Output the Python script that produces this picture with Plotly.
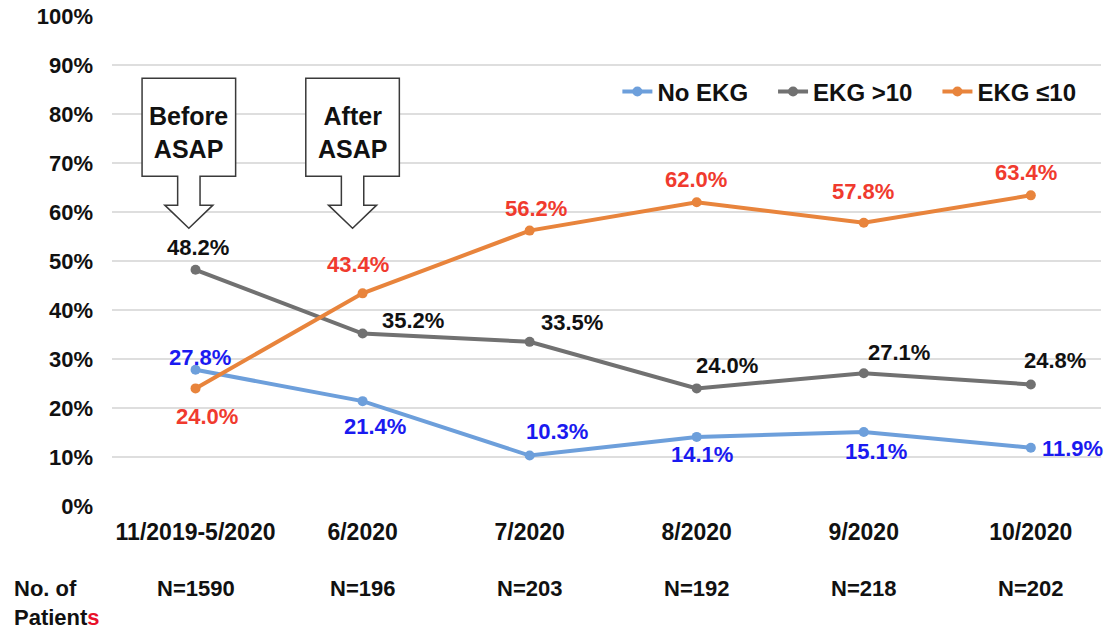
import plotly.graph_objects as go

# ---- data ----
PERIODS = ["11/2019-5/2020", "6/2020", "7/2020", "8/2020", "9/2020", "10/2020"]
N_PATIENTS = [1590, 196, 203, 192, 218, 202]

NO_EKG = [27.8, 21.4, 10.3, 14.1, 15.1, 11.9]
EKG_GT10 = [48.2, 35.2, 33.5, 24.0, 27.1, 24.8]
EKG_LE10 = [24.0, 43.4, 56.2, 62.0, 57.8, 63.4]

Y_TICKS = list(range(0, 101, 10))

# ---- style ----
FONT = "Liberation Sans, Arial, sans-serif"
GRID = "#dedede"
NBSP = "\u00a0"

SERIES = [
    # name, values, line colour, label colour, label offsets (px right, px down)
    ("No EKG", NO_EKG, "#6d9fdb", "#1a1af0",
     [(4, -12), (12, 25), (27, -24), (5, 18), (12, 19), (42, 1)]),
    ("EKG >10", EKG_GT10, "#717171", "#111111",
     [(2, -22), (50, -13), (42, -19), (30, -23), (35, -21), (24, -24)]),
    ("EKG ≤10", EKG_LE10, "#e8843c", "#f03a2e",
     [(11, 28), (-5, -29), (6, -22), (-1, -23), (-1, -31), (-5, -23)]),
]

x = list(range(len(PERIODS)))

fig = go.Figure()
annotations = []

for i, (name, vals, color, lab_color, offsets) in enumerate(SERIES):
    pad = NBSP * 3 if i < len(SERIES) - 1 else ""
    fig.add_trace(go.Scatter(
        x=x, y=vals, name=name + pad,
        mode="lines+markers",
        line=dict(color=color, width=4),
        marker=dict(color=color, size=10),
        hovertemplate="%{y:.1f}%<extra>" + name + "</extra>",
    ))
    for xi, v, (dx, dy) in zip(x, vals, offsets):
        annotations.append(dict(
            x=xi, y=v, xref="x", yref="y",
            text=f"{v:.1f}%", showarrow=False,
            xshift=dx, yshift=-dy,
            font=dict(size=22, color=lab_color, family=FONT, weight="bold"),
        ))

# patient counts under each period
for xi, n in zip(x, N_PATIENTS):
    annotations.append(dict(
        x=xi, y=-0.169, xref="x", yref="paper",
        text=f"N={n}", showarrow=False, yanchor="middle",
        font=dict(size=22, color="#111111", family=FONT, weight="bold"),
    ))

annotations.append(dict(
    x=-0.101, y=-0.139, xref="paper", yref="paper",
    xanchor="left", yanchor="top", align="left", showarrow=False,
    text="No. of<br>Patient<span style='color:#e8102a'>s</span>",
    font=dict(size=22, color="#111111", family=FONT, weight="bold"),
))

# "Before ASAP" / "After ASAP" callout arrows
shapes = []
for cx, label in [(-0.04, "Before<br>ASAP"), (0.94, "After<br>ASAP")]:
    bw, sw, hw = 0.28, 0.067, 0.144
    top, bot, head, tip = 87.3, 67.3, 61.4, 56.7
    path = (
        f"M {cx - bw},{top} L {cx + bw},{top} L {cx + bw},{bot} "
        f"L {cx + sw},{bot} L {cx + sw},{head} L {cx + hw},{head} "
        f"L {cx},{tip} L {cx - hw},{head} L {cx - sw},{head} "
        f"L {cx - sw},{bot} L {cx - bw},{bot} Z"
    )
    shapes.append(dict(
        type="path", path=path, xref="x", yref="y",
        fillcolor="white", line=dict(color="#3a3a3a", width=1.5),
        layer="above",
    ))
    annotations.append(dict(
        x=cx, y=76.3, xref="x", yref="y", text=label, showarrow=False,
        font=dict(size=25, color="#111111", family=FONT, weight="bold"),
    ))

# the page body has an 8px margin, so the figure is offset by it
fig.update_layout(
    width=1104, height=622,
    margin=dict(l=104, r=11, t=8, b=124),
    paper_bgcolor="white", plot_bgcolor="white",
    font=dict(family=FONT, size=22, color="#111111", weight="bold"),
    showlegend=True,
    legend=dict(
        orientation="h", x=0.511, y=0.845, xanchor="left", yanchor="middle",
        font=dict(size=24, family=FONT, color="#111111", weight="bold"),
        bgcolor="rgba(0,0,0,0)", itemclick=False,
    ),
    xaxis=dict(
        range=[-0.5, 5.42], tickvals=x, ticktext=PERIODS,
        showgrid=False, zeroline=False, showline=False, automargin=False,
        ticks="", ticklabelstandoff=10, ticklabeloverflow="allow",
        tickfont=dict(size=23, family=FONT, color="#111111", weight="bold"),
    ),
    yaxis=dict(
        range=[0, 100], tickvals=Y_TICKS, ticktext=[f"{v}%" for v in Y_TICKS],
        showgrid=True, gridcolor=GRID, gridwidth=1.5, automargin=False,
        zeroline=False, showline=False, ticks="", ticklabelstandoff=18,
        ticklabeloverflow="allow",
        tickfont=dict(size=22, family=FONT, color="#111111", weight="bold"),
    ),
    shapes=shapes,
    annotations=annotations,
)

fig.write_html("out.html")
